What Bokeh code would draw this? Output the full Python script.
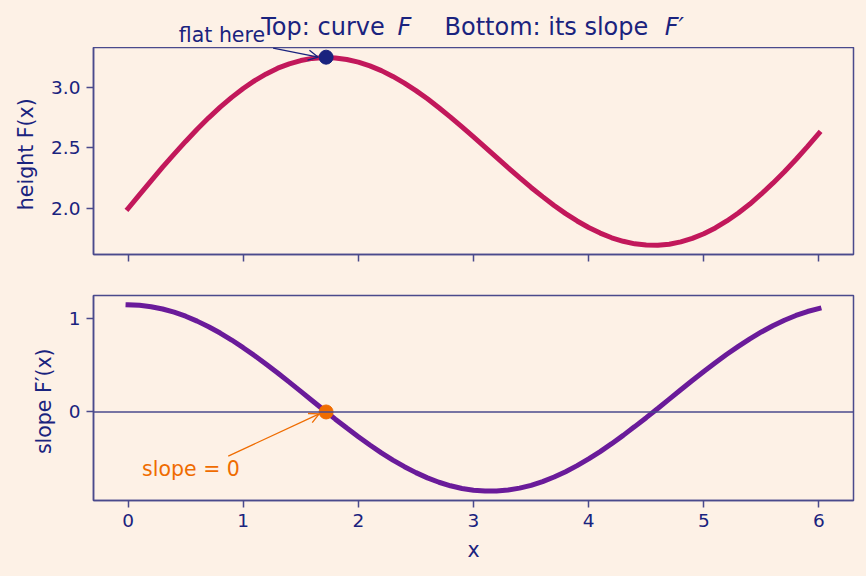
from bokeh.plotting import figure
from bokeh.models import (Label, Arrow, OpenHead, Span, Range1d, FixedTicker,
                          ColumnDataSource, NumeralTickFormatter)
from bokeh.layouts import column
from bokeh.embed import file_html
from bokeh.resources import INLINE

# ---- data ----
x_vals = [0.0, 0.1, 0.2, 0.3, 0.4, 0.5, 0.6, 0.7, 0.8, 0.9,
          1.0, 1.1, 1.2, 1.3, 1.4, 1.5, 1.6, 1.7, 1.8, 1.9,
          2.0, 2.1, 2.2, 2.3, 2.4, 2.5, 2.6, 2.7, 2.8, 2.9,
          3.0, 3.1, 3.2, 3.3, 3.4, 3.5, 3.6, 3.7, 3.8, 3.9,
          4.0, 4.1, 4.2, 4.3, 4.4, 4.5, 4.6, 4.7, 4.8, 4.9,
          5.0, 5.1, 5.2, 5.3, 5.4, 5.5, 5.6, 5.7, 5.8, 5.9, 6.0]
F_vals = [2.000, 2.115, 2.229, 2.341, 2.449, 2.554, 2.655, 2.749, 2.837, 2.918,
          2.991, 3.056, 3.112, 3.159, 3.195, 3.222, 3.240, 3.247, 3.244, 3.231,
          3.209, 3.178, 3.139, 3.091, 3.036, 2.974, 2.906, 2.832, 2.755, 2.674,
          2.591, 2.507, 2.422, 2.337, 2.255, 2.174, 2.098, 2.025, 1.958, 1.897,
          1.843, 1.797, 1.758, 1.729, 1.708, 1.698, 1.696, 1.705, 1.724, 1.753,
          1.791, 1.839, 1.897, 1.963, 2.037, 2.120, 2.209, 2.304, 2.405, 2.511, 2.621]
dF_vals = [1.150, 1.145, 1.130, 1.105, 1.071, 1.028, 0.975, 0.915, 0.847, 0.772,
           0.690, 0.604, 0.512, 0.418, 0.320, 0.221, 0.121, 0.021, -0.077, -0.173,
           -0.266, -0.355, -0.439, -0.516, -0.587, -0.651, -0.707, -0.754, -0.792, -0.821,
           -0.840, -0.849, -0.848, -0.838, -0.817, -0.787, -0.747, -0.698, -0.641, -0.576,
           -0.504, -0.425, -0.340, -0.251, -0.157, -0.061, 0.038, 0.138, 0.238, 0.337,
           0.434, 0.528, 0.619, 0.704, 0.785, 0.859, 0.926, 0.985, 1.036, 1.078, 1.110]
flat_x = [1.72]
flat_F = [3.25]
flat_dF = [0.0]
x_ticks = [0, 1, 2, 3, 4, 5, 6]
top_y_ticks = [2.0, 2.5, 3.0]
bot_y_ticks = [0, 1]

BG = "#fdf1e6"
NAVY = "#1a237e"
FRAME = "#4a4a8c"
CRIMSON = "#c2185b"
PURPLE = "#6a1b9a"
ORANGE = "#ef6c00"
FONT = "DejaVu Sans"

src = ColumnDataSource(dict(x=x_vals, F=F_vals, dF=dF_vals))
pt = ColumnDataSource(dict(x=flat_x, F=flat_F, dF=flat_dF))
X_RANGE = Range1d(-0.3, 6.3)


def style(p):
    p.background_fill_color = BG
    p.border_fill_color = BG
    p.outline_line_color = FRAME
    p.outline_line_width = 1.5
    p.xgrid.visible = False
    p.ygrid.visible = False
    for ax in p.xaxis + p.yaxis:
        ax.axis_line_color = FRAME
        ax.axis_line_width = 1.5
        ax.major_tick_line_color = FRAME
        ax.major_tick_line_width = 1.5
        ax.major_tick_out = 7
        ax.major_tick_in = 0
        ax.minor_tick_line_color = None
        ax.major_label_text_color = NAVY
        ax.major_label_text_font = FONT
        ax.major_label_text_font_size = "18.5px"
        ax.major_label_standoff = 6
        ax.axis_label_text_color = NAVY
        ax.axis_label_text_font = FONT
        ax.axis_label_text_font_size = "20.5px"
        ax.axis_label_text_font_style = "normal"
        ax.axis_label_standoff = 10


# ---- header strip (title + "flat here"), y in pixels from its bottom ----
p0 = figure(frame_width=760, frame_height=47, x_range=X_RANGE, y_range=Range1d(0, 47),
            output_backend="svg", toolbar_location=None,
            x_axis_location=None, y_axis_location=None,
            min_border_left=93, min_border_right=13, min_border_top=0, min_border_bottom=0)
p0.background_fill_color = BG
p0.border_fill_color = BG
p0.outline_line_color = None
p0.xgrid.visible = False
p0.ygrid.visible = False

title_y = 21.0
for tx, txt, sty in [(1.157, "Top: curve", "normal"), (2.339, "F", "italic"),
                     (2.748, "Bottom: its slope", "normal"), (4.661, "F\u2032", "italic")]:
    p0.add_layout(Label(x=tx, y=title_y, text=txt, text_align="left",
                        text_baseline="alphabetic", text_color=NAVY, text_font=FONT,
                        text_font_size="24px", text_font_style=sty))
p0.add_layout(Label(x=1.19, y=13.0, text="flat here", text_align="right",
                    text_baseline="alphabetic", text_color=NAVY, text_font=FONT,
                    text_font_size="20.5px"))

# ---- top panel ----
p1 = figure(frame_width=760, frame_height=207, x_range=X_RANGE,
            y_range=Range1d(1.62, 3.33), output_backend="svg", toolbar_location=None,
            min_border_left=93, min_border_right=13, min_border_top=0, min_border_bottom=21)
style(p1)
p1.xaxis.ticker = FixedTicker(ticks=x_ticks)
p1.xaxis.major_label_text_font_size = "0px"
p1.xaxis.major_label_standoff = 0
p1.yaxis.ticker = FixedTicker(ticks=top_y_ticks)
p1.yaxis.formatter = NumeralTickFormatter(format="0.0")
p1.yaxis.axis_label = "height  F(x)"

p1.line("x", "F", source=src, line_color=CRIMSON, line_width=5, line_cap="square")
p1.scatter("x", "F", source=pt, size=14, fill_color=NAVY, line_color=NAVY)
p1.add_layout(Arrow(end=OpenHead(size=10, line_color=NAVY, line_width=1.3),
                    x_start=1.26, y_start=3.325, x_end=1.652, y_end=3.25,
                    line_color=NAVY, line_width=1.3))

# ---- bottom panel ----
p2 = figure(frame_width=760, frame_height=205, x_range=X_RANGE,
            y_range=Range1d(-0.95, 1.25), output_backend="svg", toolbar_location=None,
            min_border_left=93, min_border_right=13, min_border_top=20, min_border_bottom=76)
style(p2)
p2.xaxis.ticker = FixedTicker(ticks=x_ticks)
p2.xaxis.axis_label = "x"
p2.xaxis.axis_label_standoff = 8
p2.yaxis.ticker = FixedTicker(ticks=bot_y_ticks)
p2.yaxis.formatter = NumeralTickFormatter(format="0")
p2.yaxis.axis_label = "slope  F\u2032(x)"

p2.add_layout(Span(location=0, dimension="width", line_color=FRAME, line_width=1.5))
p2.line("x", "dF", source=src, line_color=PURPLE, line_width=5, line_cap="square")
p2.scatter("x", "dF", source=pt, size=14, fill_color=ORANGE, line_color=ORANGE)
p2.add_layout(Arrow(end=OpenHead(size=10, line_color=ORANGE, line_width=1.3),
                    x_start=0.87, y_start=-0.473, x_end=1.66, y_end=-0.02,
                    line_color=ORANGE, line_width=1.3))
p2.add_layout(Label(x=0.122, y=-0.613, text="slope = 0", text_align="left",
                    text_baseline="alphabetic", text_color=ORANGE, text_font=FONT,
                    text_font_size="20.5px"))

layout = column(p0, p1, p2, spacing=0)
html = file_html(layout, INLINE)
html = html.replace("<body>", '<body style="margin:0;padding:0;background:%s;">' % BG)
open("out.html", "w").write(html)
